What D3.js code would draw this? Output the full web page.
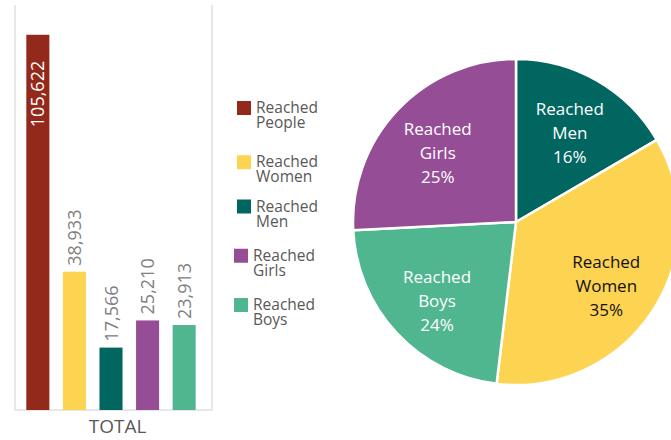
<!DOCTYPE html>
<html><head><meta charset="utf-8">
<script src="https://cdn.jsdelivr.net/npm/d3@7"></script>
<style>html,body{margin:0;padding:0;background:#fff;}svg{display:block;font-family:"Open Sans",sans-serif;}</style>
</head><body>
<svg id="c" width="671" height="440"></svg>
<script>
const barCategories = ["Reached People","Reached Women","Reached Men","Reached Girls","Reached Boys"];
const barValues = [105622, 38933, 17566, 25210, 23913];
const barColors = ["#93291a","#fdd352","#026660","#954e95","#50b690"];
const axisLabel = "TOTAL";
const legendLines = [["Reached","People"],["Reached","Women"],["Reached","Men"],["Reached","Girls"],["Reached","Boys"]];

const pieCategories = ["Reached Men","Reached Women","Reached Boys","Reached Girls"];
const pieValues = [16.6, 35.3, 22.3, 25.8];
const pieLabels = ["16%","35%","24%","25%"];
const pieColors = ["#026660","#fdd352","#50b690","#954e95"];
const pieTextColors = ["#ffffff","#111111","#ffffff","#ffffff"];
const pieNames = [["Reached","Men"],["Reached","Women"],["Reached","Boys"],["Reached","Girls"]];

const svg = d3.select("#c");
const fmt = d3.format(",");

// ---- Bar chart ----
const frame = {left:15, right:212, top:5, bottom:410};
const x = d3.scaleBand().domain(barCategories).range([19, 203]).paddingInner(0.37).paddingOuter(0.2);
const y = d3.scaleLinear().domain([0, 114000]).range([frame.bottom, frame.top]);

const g = svg.append("g");
g.append("path")
  .attr("d", `M${frame.left},${frame.top}V${frame.bottom}H${frame.right}V${frame.top}`)
  .attr("fill","none").attr("stroke","#e0e0e0").attr("stroke-width",1.5);

g.selectAll("rect.bar").data(barValues).join("rect").attr("class","bar")
  .attr("x",(d,i)=>x(barCategories[i]))
  .attr("width",x.bandwidth())
  .attr("y",d=>y(d))
  .attr("height",d=>y(0)-y(d))
  .attr("fill",(d,i)=>barColors[i]);

g.selectAll("text.val").data(barValues).join("text").attr("class","val")
  .attr("transform",(d,i)=>{
    const cx = x(barCategories[i]) + x.bandwidth()/2 + 6.5;
    const inside = i===0;
    const yy = inside ? y(d) + 26 : y(d) - 6;
    return `translate(${cx},${yy}) rotate(-90)`;
  })
  .attr("text-anchor",(d,i)=> i===0 ? "end" : "start")
  .attr("font-size",18)
  .attr("fill",(d,i)=> i===0 ? "#ffffff" : "#808080")
  .text(d=>fmt(d));

g.append("text").attr("x",(frame.left+frame.right)/2+4).attr("y",433)
  .attr("text-anchor","middle").attr("font-size",19).attr("fill","#595959")
  .text(axisLabel);

// ---- Legend ----
const ly = d3.scalePoint().domain(barCategories).range([101, 298]);
const lg = svg.append("g");
barCategories.forEach((c,i)=>{
  const top = ly(c) + (i===1 ? 5 : 0);
  const lx = i>=3 ? 234 : 237;
  lg.append("rect").attr("x",lx).attr("y",top).attr("width",14).attr("height",14).attr("fill",barColors[i]);
  const t = lg.append("text").attr("x",lx+19).attr("y",top+12).attr("font-size",15.5).attr("fill","#595959");
  legendLines[i].forEach((s,j)=>t.append("tspan").attr("x",lx+19).attr("dy",j===0?0:15).text(s));
});

// ---- Pie ----
const cx = 516, cy = 222, R = 163;
const pie = d3.pie().sort(null).value(d=>d)(pieValues);
const arc = d3.arc().innerRadius(0).outerRadius(R);
const labelArc = d3.arc().innerRadius(108).outerRadius(108);
const pg = svg.append("g").attr("transform",`translate(${cx},${cy})`);
pg.selectAll("path").data(pie).join("path")
  .attr("d",arc).attr("fill",(d,i)=>pieColors[i])
  .attr("stroke","#fff").attr("stroke-width",2.5).attr("stroke-linejoin","round");
pg.selectAll("text").data(pie).join("text")
  .attr("transform",d=>{const [a,b]=labelArc.centroid(d);return `translate(${a},${b+5})`;})
  .attr("text-anchor","middle").attr("font-size",17)
  .attr("fill",(d,i)=>pieTextColors[i])
  .each(function(d,i){
    const t = d3.select(this);
    const lines = [pieNames[i][0], pieNames[i][1], pieLabels[i]];
    lines.forEach((s,j)=>t.append("tspan").attr("x",0).attr("y",(j-1)*24+6).text(s));
  });
</script>
</body></html>
